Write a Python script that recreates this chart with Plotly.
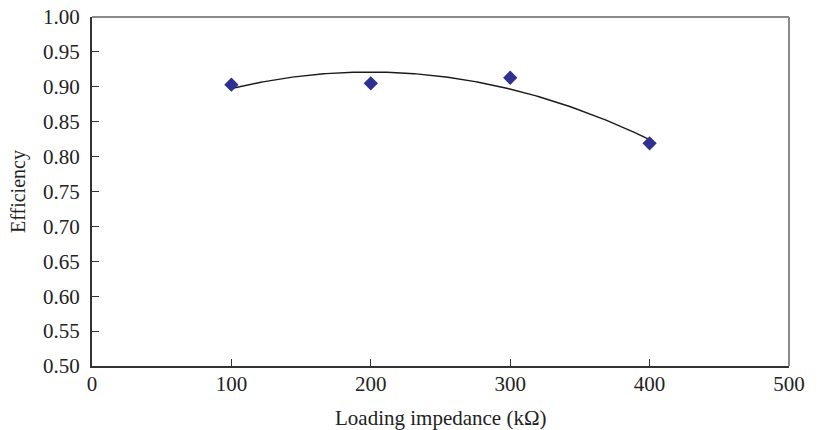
import numpy as np
import plotly.graph_objects as go

impedance = [100, 200, 300, 400]
efficiency = [0.903, 0.905, 0.913, 0.819]
x_ticks = [0, 100, 200, 300, 400, 500]
y_ticks = [0.50, 0.55, 0.60, 0.65, 0.70, 0.75, 0.80, 0.85, 0.90, 0.95, 1.00]

# second-order polynomial trendline fitted to the data
coef = np.polyfit(impedance, efficiency, 2)
xf = np.linspace(min(impedance), max(impedance), 200)
yf = np.polyval(coef, xf)

font = "Liberation Serif, Times New Roman, serif"
fig = go.Figure()
fig.add_trace(go.Scatter(x=xf, y=yf, mode="lines",
                         line=dict(color="#1a1a1a", width=1.4), hoverinfo="skip"))
fig.add_trace(go.Scatter(x=impedance, y=efficiency, mode="markers",
                         marker=dict(symbol="diamond", size=11, color="#2E3192")))

# page body has an 8px default margin, so shift margins to compensate
fig.update_layout(
    width=819, height=430, showlegend=False,
    margin=dict(l=84, r=38, t=9, b=72, autoexpand=False),
    paper_bgcolor="white", plot_bgcolor="white",
    font=dict(family=font, size=21, color="#222"),
    xaxis=dict(range=[0, 500], tickvals=x_ticks, ticktext=[str(v) for v in x_ticks],
               showgrid=False, zeroline=False, showline=True, linecolor="#333",
               linewidth=2, ticks="inside", ticklen=7, tickcolor="#333",
               automargin=False, ticklabelstandoff=-2, ticklabeloverflow="allow"),
    yaxis=dict(range=[0.5, 1.0], tickvals=y_ticks, ticktext=[f"{v:.2f}" for v in y_ticks],
               showgrid=False, zeroline=False, showline=True, linecolor="#333",
               linewidth=2, ticks="inside", ticklen=7, tickcolor="#333",
               automargin=False, ticklabelstandoff=6, ticklabeloverflow="allow"),
    annotations=[
        dict(text="Loading impedance (kΩ)", xref="paper", yref="paper", x=0.5, y=0,
             xanchor="center", yanchor="top", yshift=-38, showarrow=False,
             font=dict(family=font, size=21, color="#222")),
        dict(text="Efficiency", xref="paper", yref="paper", x=0, y=0.5,
             xanchor="right", yanchor="middle", xshift=-60, textangle=-90,
             showarrow=False, font=dict(family=font, size=20, color="#222")),
    ],
    shapes=[
        dict(type="line", xref="paper", yref="paper", x0=0, x1=1, y0=1, y1=1,
             line=dict(color="#8a8a8a", width=2)),
        dict(type="line", xref="paper", yref="paper", x0=1, x1=1, y0=0, y1=1,
             line=dict(color="#8a8a8a", width=2)),
    ],
)
fig.write_html("out.html")
